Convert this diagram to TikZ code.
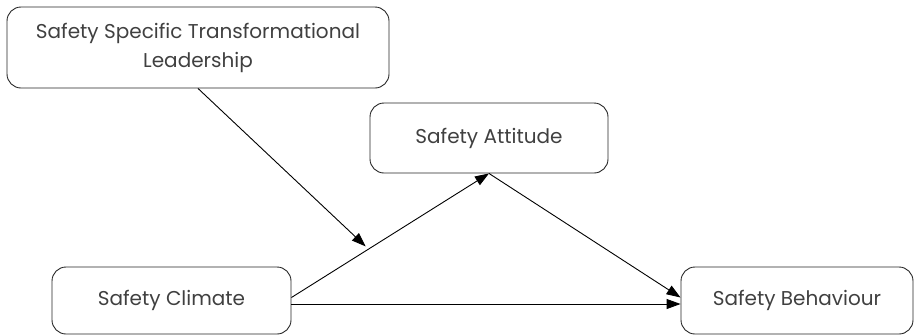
\documentclass[tikz,border=0pt]{standalone}
\usepackage{fontspec}
\setmainfont{Poppins}
\usetikzlibrary{arrows.meta,calc}
\begin{document}
\begin{tikzpicture}[x=1pt,y=-1pt,
  box/.style={draw=black!85,line width=0.9pt,rounded corners=14pt,align=center,text=black!75,font=\fontsize{20}{29}\selectfont,inner sep=0pt},
  link/.style={draw=black,line width=0.9pt,-{Triangle[length=14pt,width=10pt]}}]
\useasboundingbox (0,0) rectangle (915,335);
\node[box,minimum width=382pt,minimum height=81pt] (l) at (198,47.5) {Safety Specific Transformational\\Leadership};
\node[box,minimum width=238pt,minimum height=70pt] (a) at (489,138) {Safety Attitude};
\node[box,minimum width=239pt,minimum height=67pt] (c) at (171.5,300.5) {Safety Climate};
\node[box,minimum width=232pt,minimum height=67pt] (b) at (797,300.5) {Safety Behaviour};
\draw[link] ([yshift=3pt]c.east) -- (a.south) coordinate[pos=0.39] (m);
\draw[link] (a.south) -- ([yshift=3pt]b.west);
\draw[link] ([yshift=-3.5pt]c.east) -- ([yshift=-3.5pt]b.west);
\draw[link,shorten >=4pt] (l.south) -- (m);
\end{tikzpicture}
\end{document}
